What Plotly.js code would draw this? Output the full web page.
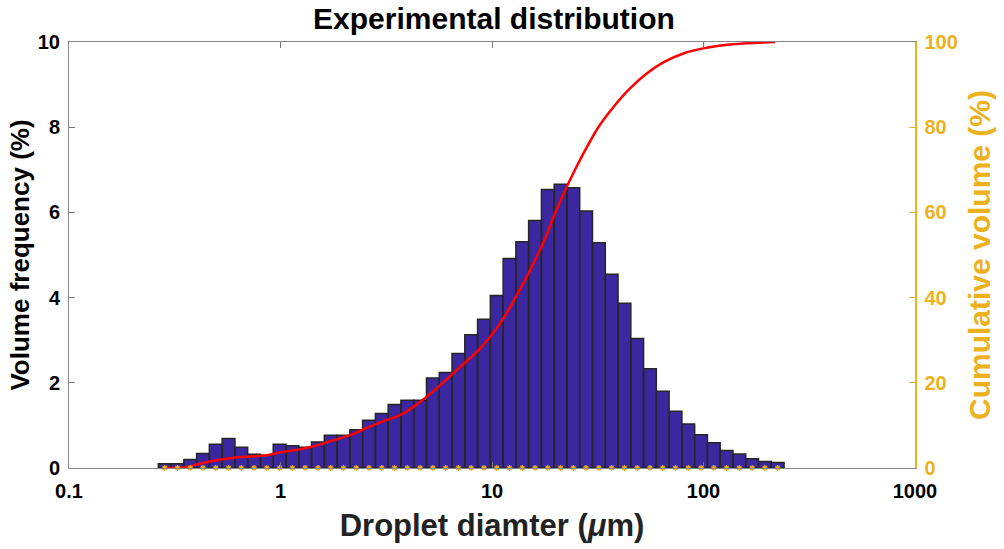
<!DOCTYPE html>
<html>
<head>
<meta charset="utf-8">
<script src="https://cdn.plot.ly/plotly-3.0.1.min.js"></script>
<style>html,body{margin:0;padding:0;background:#fff;}#chart{width:1004px;height:549px;}</style>
</head>
<body>
<div id="chart"></div>
<script>
// Bin edges (µm), 49 geometrically spaced size classes
var binEdges = [0.2644,0.3039,0.3491,0.4012,0.4610,0.5298,0.6088,0.6996,0.8038,0.9238,
  1.062,1.220,1.402,1.611,1.851,2.128,2.445,2.810,3.228,3.710,
  4.264,4.900,5.631,6.471,7.436,8.546,9.820,11.29,12.97,14.90,
  17.13,19.68,22.62,25.98,29.86,34.32,39.44,45.33,52.08,59.84,
  68.78,79.04,90.83,104.4,119.9,137.8,158.4,182.0,209.1,240.4];
// Volume frequency (%) per bin
var volumeFrequency = [0.10,0.10,0.20,0.34,0.56,0.69,0.49,0.32,0.30,0.56,
  0.52,0.49,0.61,0.77,0.77,0.90,1.12,1.28,1.49,1.59,
  1.59,2.11,2.24,2.69,3.13,3.49,4.05,4.92,5.31,5.81,
  6.54,6.66,6.58,6.03,5.29,4.55,3.87,3.04,2.33,1.80,
  1.33,1.03,0.78,0.59,0.41,0.33,0.22,0.15,0.13];
// Cumulative volume curve
var cumDiameter = [0.284,0.347,0.416,0.499,0.598,0.717,0.861,1.031,1.236,1.483,
  1.777,2.131,2.556,3.063,3.673,4.566,5.678,7.060,8.777,10.91,
  12.85,15.12,17.81,19.86,22.95,27.03,31.82,37.46,44.94,53.89,
  64.55,80.25,99.8,133.5,217.8];
var cumVolume = [0,0.1,1.0,1.8,2.4,2.7,3.0,3.8,4.4,5.3,
  6.5,7.7,9.4,11.0,12.4,15.5,19.4,23.7,28.0,33.9,
  39.8,46.4,53.8,59.8,66.8,73.8,80.0,84.7,89.1,92.6,
  95.2,97.3,98.5,99.4,100];
var xTickVals = [0.1,1,10,100,1000];
var xTickText = ['0.1','1','10','100','1000'];

// Build bar polygons
var bx = [], by = [];
for (var i = 0; i < volumeFrequency.length; i++) {
  var a = binEdges[i], b = binEdges[i+1], h = volumeFrequency[i];
  bx.push(a, a, b, b, a, null);
  by.push(0, h, h, 0, 0, null);
}
var centers = [], zeros = [];
for (var j = 0; j < volumeFrequency.length; j++) {
  centers.push(Math.sqrt(binEdges[j]*binEdges[j+1]));
  zeros.push(0);
}

var FONT = 'Liberation Sans, Arial, sans-serif';
var ORANGE = '#EDB120';
var traces = [
  {x: bx, y: by, type: 'scatter', mode: 'lines', fill: 'toself',
   fillcolor: '#3b28a0', line: {color: '#262626', width: 1.5},
   connectgaps: false, hoverinfo: 'skip', showlegend: false},
  {x: cumDiameter, y: cumVolume, type: 'scatter', mode: 'lines', yaxis: 'y2',
   line: {color: '#ff0000', width: 2.5, shape: 'spline', smoothing: 0.8},
   showlegend: false},
  {x: centers, y: zeros, type: 'scatter', mode: 'markers', yaxis: 'y2',
   marker: {symbol: 'asterisk-open', size: 5, color: ORANGE, line: {color: ORANGE, width: 1.2}},
   cliponaxis: false, showlegend: false}
];

var layout = {
  width: 1004, height: 549,
  margin: {l: 69, r: 89, t: 42, b: 81},
  paper_bgcolor: '#fff', plot_bgcolor: '#fff',
  title: {text: '<b>Experimental distribution</b>', x: 0.492, xanchor: 'center',
          yref: 'container', y: 0.966, yanchor: 'middle',
          font: {family: FONT, size: 30, color: '#000'}},
  xaxis: {type: 'log', range: [-1, 3], tickvals: xTickVals, ticktext: xTickText,
          ticks: 'inside', ticklen: 6, tickcolor: '#777', showline: true, linecolor: '#888', linewidth: 1,
          mirror: 'ticks', showgrid: false, zeroline: false, ticklabelstandoff: 5,
          tickfont: {family: FONT, size: 20, color: '#000', weight: 'bold'},
          title: {text: '<b>Droplet diamter (<i>μ</i>m)</b>', standoff: 13,
                  font: {family: FONT, size: 31, color: '#222'}}},
  yaxis: {range: [0, 10], dtick: 2, ticks: 'inside', ticklen: 6, tickcolor: '#777',
          showline: true, linecolor: '#888', linewidth: 1, showgrid: false, zeroline: false,
          ticklabelstandoff: 4,
          tickfont: {family: FONT, size: 20, color: '#000', weight: 'bold'},
          title: {text: '<b>Volume frequency (%)</b>', standoff: 0,
                  font: {family: FONT, size: 26, color: '#000'}}},
  yaxis2: {range: [0, 100], dtick: 20, overlaying: 'y', side: 'right', ticks: 'inside', ticklen: 6,
           tickcolor: ORANGE, showline: true, linecolor: ORANGE, linewidth: 1.5, showgrid: false, zeroline: false,
           ticklabelstandoff: 4,
           tickfont: {family: FONT, size: 20, color: ORANGE, weight: 'bold'},
           title: {text: '<b>Cumulative volume (%)</b>', standoff: 12,
                   font: {family: FONT, size: 30, color: ORANGE}}},
  showlegend: false
};

Plotly.newPlot('chart', traces, layout, {displayModeBar: false, staticPlot: true});
</script>
</body>
</html>
